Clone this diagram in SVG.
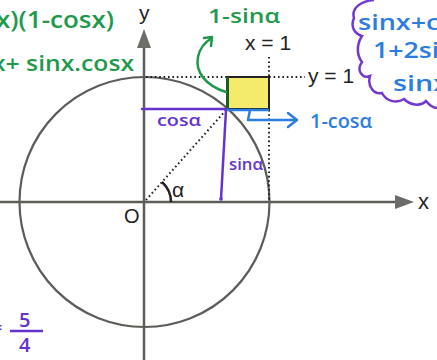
<svg xmlns="http://www.w3.org/2000/svg" width="437" height="360" viewBox="0 0 437 360">
<style>
.ax{stroke:#5b5e58;stroke-width:2.5;fill:none}
.dot{stroke:#222;stroke-width:2;stroke-dasharray:1.6 2.8;fill:none}
.lbl{font-family:"Liberation Sans",Arial,sans-serif;fill:#222}
.hw{font-family:"Open Sans","DejaVu Sans",sans-serif;font-weight:600}
.g{fill:#1f9a4c}
.p{fill:#6633cc}
.b{fill:#2b7de0}
</style>
<rect width="437" height="360" fill="#fff"/>
<g id="circle"><circle cx="144.5" cy="202" r="125" fill="none" stroke="#5b5e58" stroke-width="2.2"/></g>
<g id="axes">
<line class="ax" x1="0" y1="202" x2="400" y2="202"/>
<polygon points="395,195 414,202 395,209" fill="#6b6e68"/>
<line class="ax" x1="144" y1="360" x2="144" y2="44"/>
<polygon points="137,48 144,29 151,48" fill="#6b6e68"/>
<text class="lbl" x="418" y="209" font-size="22">x</text>
<text class="lbl" x="139" y="20" font-size="21">y</text>
<text class="lbl" x="124" y="223" font-size="20">O</text>
</g>
<g id="guides">
<line class="dot" x1="269" y1="57" x2="269" y2="202"/>
<line class="dot" x1="146" y1="77" x2="305" y2="77"/>
<line class="dot" x1="146" y1="200" x2="227" y2="109"/>
<text class="lbl" x="245" y="50" font-size="21">x = 1</text>
<text class="lbl" x="308" y="83" font-size="21">y = 1</text>
<path d="M171,202 A27,27 0 0 0 162,182" fill="none" stroke="#222" stroke-width="2.5"/>
<text class="lbl" x="172" y="197" font-size="21">α</text>
</g>
<g id="square">
<rect x="227" y="77" width="42" height="32" fill="#f4ea6c" stroke="#222" stroke-width="2"/>
<line x1="227.5" y1="77" x2="227.5" y2="109" stroke="#1d5a2a" stroke-width="3"/>
</g>
<g id="connectors" fill="none" stroke-linecap="round" stroke-linejoin="round">
<line x1="142" y1="109" x2="227" y2="109" stroke="#6633cc" stroke-width="2.5"/>
<line x1="226" y1="110" x2="221" y2="199" stroke="#6633cc" stroke-width="2.5"/>
<circle cx="221" cy="199" r="1.8" fill="#6633cc" stroke="none"/>
<line x1="228" y1="110" x2="268" y2="110" stroke="#2b7de0" stroke-width="2.5"/>
<path d="M250,110 L248,120 L296,120 M288,113 L297,120 L288,127" stroke="#2b7de0" stroke-width="2.5"/>
<path d="M226,92 C206,86 195,72 198,57 C200,47 205,42 212,38 M204,38 L212,37 L211,46" stroke="#1f9a4c" stroke-width="2.5"/>
</g>
<g id="labels" class="hw">
<text class="g" x="208" y="23" font-size="19" textLength="72" lengthAdjust="spacingAndGlyphs">1-sinα</text>
<text class="p" x="157" y="126" font-size="17" textLength="44" lengthAdjust="spacingAndGlyphs">cosα</text>
<text class="p" x="229" y="170" font-size="17" textLength="34" lengthAdjust="spacingAndGlyphs">sinα</text>
<text class="b" x="310" y="128" font-size="20" textLength="62" lengthAdjust="spacingAndGlyphs">1-cosα</text>
</g>
<g id="notes" class="hw">
<text class="g" x="-4" y="28" font-size="23" textLength="118" lengthAdjust="spacingAndGlyphs">x)(1-cosx)</text>
<text class="g" x="-8" y="71" font-size="22" textLength="142" lengthAdjust="spacingAndGlyphs">x+ sinx.cosx</text>
</g>
<g id="cloud">
<path d="M374,0 C361,1 351,8 354,18 C350,27 355,34 362,36 C356,45 357,56 362,62 C356,70 362,79 370,76 C367,86 374,95 382,93 C386,101 396,104 404,99 C410,105 420,107 426,101 C430,106 434,108 437,108" fill="none" stroke="#7438d0" stroke-width="2.5"/>
<text class="hw b" x="358" y="30" font-size="21" textLength="126" lengthAdjust="spacingAndGlyphs">sinx+cosx</text>
<text class="hw b" x="373" y="58" font-size="21" textLength="98" lengthAdjust="spacingAndGlyphs">1+2sinx</text>
<text class="hw b" x="393" y="91" font-size="21" textLength="56" lengthAdjust="spacingAndGlyphs">sinx</text>
</g>
<g id="fraction" class="hw">
<text class="p" x="-8" y="334" font-size="18">=</text>
<text class="p" x="19" y="327" font-size="20">5</text>
<line x1="10" y1="331" x2="43" y2="331" stroke="#6633cc" stroke-width="2.5"/>
<text class="p" x="19" y="352" font-size="20">4</text>
</g>
</svg>
